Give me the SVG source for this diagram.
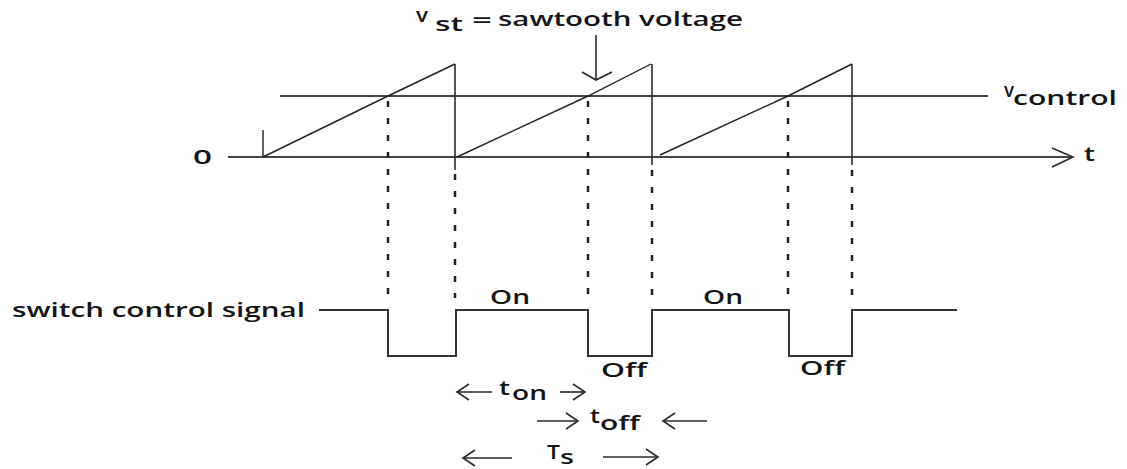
<svg xmlns="http://www.w3.org/2000/svg" width="1127" height="469" viewBox="0 0 1127 469">
<style>
.ln{stroke:#2a2a2a;stroke-width:1.6;fill:none}
.ax{stroke:#444;stroke-width:2;fill:none}
.saw{stroke:#222;stroke-width:1.4;fill:none}
.dash{stroke:#222;stroke-width:2.5;stroke-dasharray:6 11;fill:none}
.sig{stroke:#333;stroke-width:2;fill:none}
text{font-family:"Open Sans","Liberation Sans",sans-serif;fill:#151515;font-weight:600}
.t{font-size:20px}
</style>
<rect width="1127" height="469" fill="#fff"/>
<g id="axes">
<line class="ax" x1="228" y1="157" x2="1072" y2="157"/>
<polyline class="ln" points="1052,148 1073,157 1052,167"/>
<line class="ax" x1="280" y1="96" x2="988" y2="96"/>
<text class="t" x="193" y="164" textLength="19" lengthAdjust="spacingAndGlyphs">0</text>
<text class="t" x="1084" y="161" textLength="11" lengthAdjust="spacingAndGlyphs">t</text>
<text class="t" x="1004" y="97" textLength="10" lengthAdjust="spacingAndGlyphs">v</text>
<text class="t" x="1013" y="105" textLength="104" lengthAdjust="spacingAndGlyphs">control</text>
</g>
<g id="sawtooth">
<line class="saw" x1="263" y1="130" x2="263" y2="157"/>
<polyline class="saw" points="263,157 388,96 455,64"/>
<line class="ln" x1="455" y1="64" x2="455" y2="170"/>
<polyline class="saw" points="457,157 588,96 651,64"/>
<line class="ln" x1="652" y1="64" x2="652" y2="165"/>
<polyline class="saw" points="660,155 788,96 852,64"/>
<line class="ln" x1="852" y1="64" x2="852" y2="165"/>
</g>
<g id="label-vst">
<text class="t" x="416" y="22" textLength="12" lengthAdjust="spacingAndGlyphs">v</text>
<text class="t" x="435" y="31" textLength="28" lengthAdjust="spacingAndGlyphs">st</text>
<text class="t" x="472" y="27" textLength="20" lengthAdjust="spacingAndGlyphs">=</text>
<text class="t" x="498" y="26" textLength="245" lengthAdjust="spacingAndGlyphs">sawtooth voltage</text>
<line class="ln" x1="596" y1="35" x2="596" y2="80"/>
<polyline class="ln" points="582,72 596,80 612,72"/>
</g>
<g id="guides">
<line class="dash" x1="388" y1="101" x2="388" y2="298"/>
<line class="dash" x1="455" y1="174" x2="455" y2="298"/>
<line class="dash" x1="588" y1="101" x2="588" y2="298"/>
<line class="dash" x1="652" y1="170" x2="652" y2="298"/>
<line class="dash" x1="788" y1="101" x2="788" y2="298"/>
<line class="dash" x1="852" y1="170" x2="852" y2="298"/>
</g>
<g id="switch-signal">
<text class="t" x="12" y="317" textLength="293" lengthAdjust="spacingAndGlyphs">switch control signal</text>
<polyline class="sig" points="319,310 388,310 388,356 456,356 456,310 588,310 588,356 652,356 652,310 789,310 789,356 852,356 852,310 957,310"/>
<text class="t" x="490" y="304" textLength="40" lengthAdjust="spacingAndGlyphs">On</text>
<text class="t" x="703" y="304" textLength="40" lengthAdjust="spacingAndGlyphs">On</text>
<text class="t" x="601" y="377" textLength="46" lengthAdjust="spacingAndGlyphs">Off</text>
<text class="t" x="800" y="375" textLength="45" lengthAdjust="spacingAndGlyphs">Off</text>
</g>
<g id="timing">
<line class="ln" x1="457" y1="392" x2="492" y2="392"/>
<polyline class="ln" points="469,384 457,392 469,400"/>
<text class="t" x="499" y="395" textLength="11" lengthAdjust="spacingAndGlyphs">t</text>
<text class="t" x="512" y="400" textLength="35" lengthAdjust="spacingAndGlyphs">on</text>
<line class="ln" x1="560" y1="392" x2="585" y2="392"/>
<polyline class="ln" points="573,384 585,392 573,400"/>
<line class="ln" x1="537" y1="421" x2="578" y2="421"/>
<polyline class="ln" points="566,413 578,421 566,429"/>
<text class="t" x="590" y="423" textLength="10" lengthAdjust="spacingAndGlyphs">t</text>
<text class="t" x="600" y="430" textLength="40" lengthAdjust="spacingAndGlyphs">off</text>
<line class="ln" x1="663" y1="421" x2="707" y2="421"/>
<polyline class="ln" points="675,413 663,421 675,429"/>
<line class="ln" x1="463" y1="458" x2="512" y2="458"/>
<polyline class="ln" points="475,450 463,458 475,466"/>
<text class="t" x="547" y="459" textLength="13" lengthAdjust="spacingAndGlyphs">T</text>
<text class="t" x="560" y="464" font-size="18" textLength="14" lengthAdjust="spacingAndGlyphs">s</text>
<line class="ln" x1="603" y1="457" x2="658" y2="457"/>
<polyline class="ln" points="646,449 658,457 646,465"/>
</g>
</svg>
